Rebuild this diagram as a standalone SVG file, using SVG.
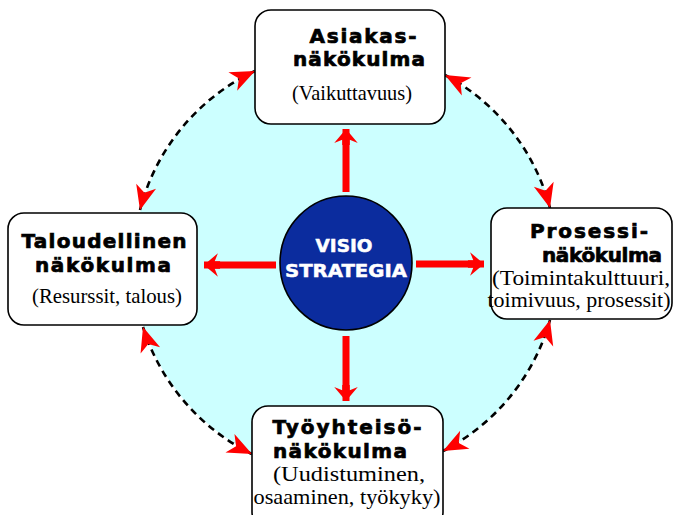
<svg xmlns="http://www.w3.org/2000/svg" width="674" height="515" viewBox="0 0 674 515">
  <style>
    .box { fill: #ffffff; stroke: #000000; stroke-width: 1.6; }
    .head { font-family: "DejaVu Sans", "Liberation Sans", sans-serif; font-weight: bold; font-size: 20px; fill: #000000; stroke: #000000; stroke-width: 0.7; text-anchor: middle; }
    .sub { font-family: "Liberation Serif", "Times New Roman", serif; font-size: 21px; fill: #000000; text-anchor: middle; }
    .core { font-family: "DejaVu Sans", "Liberation Sans", sans-serif; font-weight: bold; font-size: 18px; fill: #ffffff; stroke: #ffffff; stroke-width: 0.5; text-anchor: middle; }
    .dash { fill: none; stroke: #000000; stroke-width: 2.6; stroke-dasharray: 7 5; marker-start: url(#tip); marker-end: url(#tip); }
    .push { stroke: #ff0000; stroke-width: 7; marker-end: url(#bigtip); }
  </style>
  <defs>
    <marker id="tip" markerUnits="userSpaceOnUse" markerWidth="30" markerHeight="30" viewBox="-20 -10 22 20" refX="0" refY="0" orient="auto-start-reverse">
      <path d="M0,0 L-18,-7.5 L-13,0 L-18,7.5 Z" fill="#ff0000"/>
    </marker>
    <marker id="bigtip" markerUnits="userSpaceOnUse" markerWidth="30" markerHeight="30" viewBox="-20 -14 22 28" refX="0" refY="0" orient="auto">
      <path d="M0,0 L-13,-11 L-10,-3.5 L-15,-3.5 L-15,3.5 L-10,3.5 L-13,11 Z" fill="#ff0000"/>
    </marker>
  </defs>

  <!-- background disc -->
  <circle cx="346" cy="263" r="212" fill="#ccffff"/>

  <!-- connectors -->
  <g id="connectors">
    <path class="dash" d="M255,71 A212,212 0 0 0 140,210"/>
    <path class="dash" d="M445,75 A212,212 0 0 1 550,208"/>
    <path class="dash" d="M550,320 A212,212 0 0 1 443,451"/>
    <path class="dash" d="M143,327 A212,212 0 0 0 252,454"/>
    <line class="push" x1="346" y1="192" x2="346" y2="129"/>
    <line class="push" x1="276" y1="265" x2="204" y2="265"/>
    <line class="push" x1="416" y1="264" x2="484" y2="264"/>
    <line class="push" x1="346" y1="336" x2="346" y2="401"/>
  </g>

  <g id="visio">
    <ellipse cx="346" cy="263" rx="66" ry="67" fill="#0b2c9e" stroke="#000000" stroke-width="1.6"/>
    <text class="core" x="344" y="252" textLength="57" lengthAdjust="spacingAndGlyphs">VISIO</text>
    <text class="core" x="346" y="277" textLength="122" lengthAdjust="spacingAndGlyphs">STRATEGIA</text>
  </g>

  <g id="asiakas">
    <rect class="box" x="255" y="10" width="190" height="114" rx="16"/>
    <text class="head" x="363" y="43" textLength="107" lengthAdjust="spacing">Asiakas-</text>
    <text class="head" x="359" y="66" textLength="132" lengthAdjust="spacing">näkökulma</text>
    <text class="sub" x="352" y="100" textLength="120" lengthAdjust="spacingAndGlyphs">(Vaikuttavuus)</text>
  </g>

  <g id="taloudellinen">
    <rect class="box" x="8" y="213" width="189" height="112" rx="16"/>
    <text class="head" x="104" y="248" textLength="165" lengthAdjust="spacing">Taloudellinen</text>
    <text class="head" x="103" y="272" textLength="136" lengthAdjust="spacing">näkökulma</text>
    <text class="sub" x="107" y="303" textLength="150" lengthAdjust="spacingAndGlyphs">(Resurssit, talous)</text>
  </g>

  <g id="prosessi">
    <rect class="box" x="491" y="208" width="181" height="111" rx="16"/>
    <text class="head" x="589" y="238" textLength="118" lengthAdjust="spacing">Prosessi-</text>
    <text class="head" x="602" y="262" textLength="120" lengthAdjust="spacing">näkökulma</text>
    <text class="sub" x="581" y="285" textLength="178" lengthAdjust="spacingAndGlyphs">(Toimintakulttuuri,</text>
    <text class="sub" x="579" y="307" textLength="183" lengthAdjust="spacingAndGlyphs">toimivuus, prosessit)</text>
  </g>

  <g id="tyoyhteiso">
    <rect class="box" x="252" y="406" width="191" height="122" rx="16"/>
    <text class="head" x="347" y="434" textLength="149" lengthAdjust="spacing">Työyhteisö-</text>
    <text class="head" x="340" y="458" textLength="134" lengthAdjust="spacing">näkökulma</text>
    <text class="sub" x="349" y="481" textLength="152" lengthAdjust="spacingAndGlyphs">(Uudistuminen,</text>
    <text class="sub" x="347" y="504" textLength="187" lengthAdjust="spacingAndGlyphs">osaaminen, työkyky)</text>
  </g>
</svg>
